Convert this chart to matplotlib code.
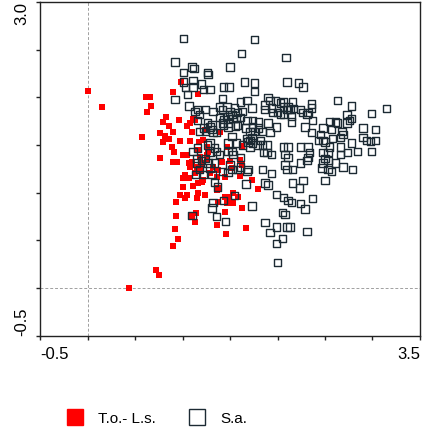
"""
Score plot: T.o.- L.s. (filled red) vs S.a. (open squares).
"""

import matplotlib
matplotlib.use("Agg")
import matplotlib.pyplot as plt
from matplotlib.lines import Line2D

plt.rcParams["font.family"] = ["Liberation Sans", "DejaVu Sans"]

# ── Data ──────────────────────────────────────────────────────────────────────

red_x = [0.00, 0.15, 0.62, 0.66, 0.67, 0.63, 0.57, 0.83, 0.79, 0.86,
         0.96, 0.76, 0.79, 0.82, 0.86, 0.90, 0.89, 0.91, 0.76, 0.90,
         0.94, 0.97, 1.05, 0.98, 0.90, 1.16, 1.08, 1.11, 1.10, 1.08,
         1.17, 1.24, 1.39, 1.05, 1.10, 1.15, 1.18, 1.27, 1.32, 1.37,
         1.42, 1.47, 1.52, 1.61, 1.63, 1.45, 1.61, 1.73, 1.79, 1.03,
         1.07, 1.01, 1.11, 1.20, 1.24, 1.05, 1.37, 1.29, 1.36, 1.15,
         1.53, 1.58, 0.97, 0.93, 1.03, 1.16, 1.53, 1.63, 1.45, 1.36,
         1.46, 1.67, 1.14, 1.13, 1.10, 0.93, 0.92, 0.95, 0.90, 0.72,
         0.75, 0.44, 1.49, 1.08, 1.01, 1.37, 1.47, 1.01, 1.26, 1.50,
         1.63, 1.18, 1.20, 1.13, 1.16, 1.07, 1.16, 1.22, 1.26, 1.26,
         1.45, 1.36, 1.22, 1.13]
red_y = [2.07, 1.90, 2.00, 2.00, 1.91, 1.85, 1.58, 1.79, 1.74, 1.70,
         1.76, 1.63, 1.53, 1.59, 1.56, 1.64, 1.48, 1.43, 1.36, 1.32,
         1.32, 1.54, 1.70, 2.16, 2.06, 2.03, 1.73, 1.77, 1.64, 1.54,
         1.53, 1.66, 1.64, 1.40, 1.32, 1.27, 1.37, 1.43, 1.27, 1.24,
         1.32, 1.48, 1.26, 1.34, 1.29, 1.16, 1.18, 1.13, 1.04, 1.19,
         1.15, 1.06, 1.07, 1.11, 0.98, 0.98, 1.05, 1.21, 1.16, 0.94,
         1.00, 0.95, 0.98, 0.90, 0.94, 1.00, 0.89, 0.84, 0.80, 0.66,
         0.57, 0.63, 0.79, 0.69, 0.76, 0.76, 0.62, 0.51, 0.44, 0.19,
         0.14, 0.00, 0.95, 1.27, 1.15, 0.90, 0.89, 1.40, 1.40, 1.33,
         1.49, 1.24, 1.31, 1.21, 1.45, 1.31, 1.10, 1.55, 1.48, 1.34,
         0.95, 1.03, 1.13, 1.76]

sa_x = [1.01, 1.76, 0.92, 1.10, 1.12, 1.62, 2.09, 1.50, 1.01, 1.26,
        1.27, 1.11, 1.01, 1.03, 1.20, 1.11, 1.22, 1.29, 1.43, 1.49,
        1.65, 1.76, 1.76, 2.10, 2.22, 2.27, 0.92, 1.05, 1.42, 1.90,
        1.92, 1.98, 2.06, 1.68, 1.61, 1.87, 2.16, 2.36, 2.63, 2.78,
        3.15, 2.99, 1.07, 1.16, 1.13, 1.24, 1.32, 1.39, 1.42, 1.47,
        1.50, 1.55, 1.58, 1.63, 1.73, 1.87, 1.94, 1.95, 2.00, 2.11,
        2.13, 2.24, 2.26, 2.32, 2.36, 2.31, 2.03, 2.06, 2.17, 2.10,
        2.06, 2.15, 1.39, 1.43, 1.42, 1.48, 1.53, 1.57, 1.61, 1.68,
        1.52, 1.74, 1.80, 1.16, 1.26, 1.18, 2.03, 2.15, 2.37, 2.55,
        2.61, 2.63, 2.73, 2.76, 2.78, 2.73, 1.43, 1.48, 1.56, 1.31,
        1.31, 1.22, 1.24, 1.32, 1.36, 1.29, 1.48, 1.58, 1.66, 1.74,
        1.80, 1.76, 1.71, 1.84, 1.90, 1.99, 2.29, 2.48, 2.57, 2.68,
        2.69, 2.90, 3.03, 1.18, 1.52, 1.92, 2.36, 2.45, 2.43, 2.48,
        2.50, 2.58, 2.66, 2.90, 2.94, 3.03, 2.98, 1.68, 1.71, 1.73,
        1.82, 1.69, 1.89, 1.84, 1.79, 1.71, 1.57, 1.63, 1.48, 1.74,
        2.06, 2.11, 2.24, 2.32, 2.55, 2.66, 2.78, 1.29, 1.26, 1.16,
        1.34, 1.11, 1.36, 1.48, 1.52, 1.29, 1.39, 1.15, 1.24, 1.20,
        1.61, 1.85, 1.89, 1.94, 1.53, 2.08, 2.11, 2.34, 2.32, 2.48,
        2.53, 2.66, 2.74, 2.84, 2.99, 2.50, 2.24, 2.31, 2.53, 2.48,
        2.61, 2.47, 2.53, 2.57, 2.69, 2.79, 2.50, 2.08, 2.10, 2.16,
        1.84, 1.69, 1.52, 1.58, 1.50, 1.29, 1.27, 1.34, 1.42, 1.61,
        1.68, 1.31, 1.15, 1.18, 1.14, 1.22, 1.48, 1.94, 1.34, 1.37,
        1.67, 1.87, 1.90, 2.16, 2.27, 2.23, 1.55, 1.43, 1.32, 1.31,
        1.36, 1.45, 1.10, 1.73, 1.99, 2.06, 2.11, 2.15, 2.24, 2.29,
        2.37, 2.05, 2.08, 1.87, 1.99, 2.10, 2.13, 1.92, 2.05, 1.99,
        2.31, 2.00]
sa_y = [2.62, 2.61, 2.37, 2.32, 2.30, 2.46, 2.42, 2.32, 2.26, 2.26,
        2.24, 2.18, 2.16, 2.10, 2.14, 2.11, 2.08, 2.08, 2.11, 2.11,
        2.16, 2.15, 2.06, 2.16, 2.15, 2.11, 1.98, 2.03, 1.99, 2.00,
        1.97, 1.96, 1.95, 1.97, 1.95, 1.92, 1.95, 1.93, 1.97, 1.91,
        1.88, 1.83, 1.91, 1.87, 1.85, 1.87, 1.85, 1.90, 1.87, 1.90,
        1.85, 1.89, 1.84, 1.85, 1.89, 1.87, 1.89, 1.84, 1.84, 1.90,
        1.87, 1.87, 1.84, 1.84, 1.89, 1.82, 1.94, 1.90, 1.88, 1.87,
        1.82, 1.80, 1.79, 1.77, 1.73, 1.80, 1.78, 1.78, 1.79, 1.76,
        1.82, 1.76, 1.74, 1.76, 1.73, 1.82, 1.82, 1.74, 1.76, 1.75,
        1.74, 1.73, 1.82, 1.76, 1.78, 1.73, 1.71, 1.69, 1.70, 1.71,
        1.66, 1.68, 1.64, 1.63, 1.63, 1.69, 1.73, 1.71, 1.68, 1.69,
        1.68, 1.64, 1.64, 1.64, 1.73, 1.69, 1.69, 1.68, 1.66, 1.64,
        1.61, 1.68, 1.66, 1.64, 1.59, 1.63, 1.63, 1.61, 1.55, 1.55,
        1.53, 1.57, 1.58, 1.58, 1.55, 1.55, 1.54, 1.57, 1.55, 1.58,
        1.55, 1.53, 1.50, 1.50, 1.50, 1.48, 1.52, 1.50, 1.52, 1.52,
        1.48, 1.48, 1.48, 1.48, 1.48, 1.48, 1.52, 1.52, 1.50, 1.47,
        1.47, 1.43, 1.43, 1.43, 1.43, 1.42, 1.40, 1.36, 1.36, 1.34,
        1.37, 1.42, 1.42, 1.40, 1.40, 1.40, 1.37, 1.42, 1.37, 1.42,
        1.42, 1.40, 1.42, 1.43, 1.43, 1.36, 1.31, 1.34, 1.34, 1.31,
        1.31, 1.26, 1.24, 1.22, 1.27, 1.24, 1.13, 1.29, 1.24, 1.24,
        1.24, 1.24, 1.24, 1.24, 1.29, 1.26, 1.31, 1.31, 1.22, 1.27,
        1.22, 1.19, 1.31, 1.24, 1.19, 1.19, 1.21, 1.20, 1.11, 1.06,
        1.09, 1.10, 1.08, 1.10, 1.13, 1.05, 0.97, 0.92, 0.90, 0.84,
        0.75, 0.70, 0.76, 0.86, 0.98, 0.95, 0.92, 0.90, 0.89, 0.83,
        0.94, 0.79, 0.77, 0.69, 0.64, 0.64, 0.64, 0.58, 0.52, 0.47,
        0.59, 0.27]

x_ticks = [-0.5, 0.0, 0.5, 1.0, 1.5, 2.0, 2.5, 3.0, 3.5]
y_ticks = [-0.5, 0.0, 0.5, 1.0, 1.5, 2.0, 2.5, 3.0]
x_labels = ["-0.5", "", "", "", "", "", "", "", "3.5"]
y_labels = ["-0.5", "", "", "", "", "", "", "3.0"]

RED = "#ff0000"
DARK = "#1c2a33"


def main():
    fig = plt.figure(figsize=(4.27, 4.44), dpi=100)
    ax = fig.add_axes([0.0937, 0.2439, 0.8899, 0.7516])

    # reference lines through the origin
    ax.axvline(0.0, color="#a0a0a0", linewidth=0.7, linestyle=(0, (3, 2)), zorder=1)
    ax.axhline(0.0, color="#a0a0a0", linewidth=0.7, linestyle=(0, (3, 2)), zorder=1)

    ax.scatter(red_x, red_y, marker="s", s=19, color=RED, linewidths=0, zorder=2)
    ax.scatter(sa_x, sa_y, marker="s", s=28, facecolors="none",
               edgecolors=DARK, linewidths=1.0, zorder=3)

    ax.set_xlim(-0.5, 3.5)
    ax.set_ylim(-0.5, 3.0)
    ax.set_xticks(x_ticks)
    ax.set_xticklabels(x_labels, fontsize=12)
    ax.set_yticks(y_ticks)
    ax.set_yticklabels(y_labels, fontsize=12, rotation=90)
    ax.tick_params(direction="out", length=3, width=1, pad=5, color="#222222")

    xl = ax.get_xticklabels()
    xl[0].set_ha("left")
    xl[-1].set_ha("right")
    yl = ax.get_yticklabels()
    yl[0].set_va("bottom")
    yl[-1].set_va("top")

    for sp in ax.spines.values():
        sp.set_color("#222222")
        sp.set_linewidth(1.0)

    handles = [
        Line2D([], [], marker="s", linestyle="none", markersize=12,
               markerfacecolor=RED, markeredgecolor=RED, label="T.o.- L.s."),
        Line2D([], [], marker="s", linestyle="none", markersize=11,
               markerfacecolor="white", markeredgecolor=DARK,
               markeredgewidth=1.0, label="S.a."),
    ]
    fig.legend(handles=handles, loc="center left", bbox_to_anchor=(0.155, 0.0574),
               ncol=2, frameon=False, fontsize=11, handlelength=1.2,
               handletextpad=0.9, columnspacing=2.1, borderpad=0, borderaxespad=0)

    fig.savefig("out.png", dpi=100)
    plt.close(fig)


if __name__ == "__main__":
    main()
